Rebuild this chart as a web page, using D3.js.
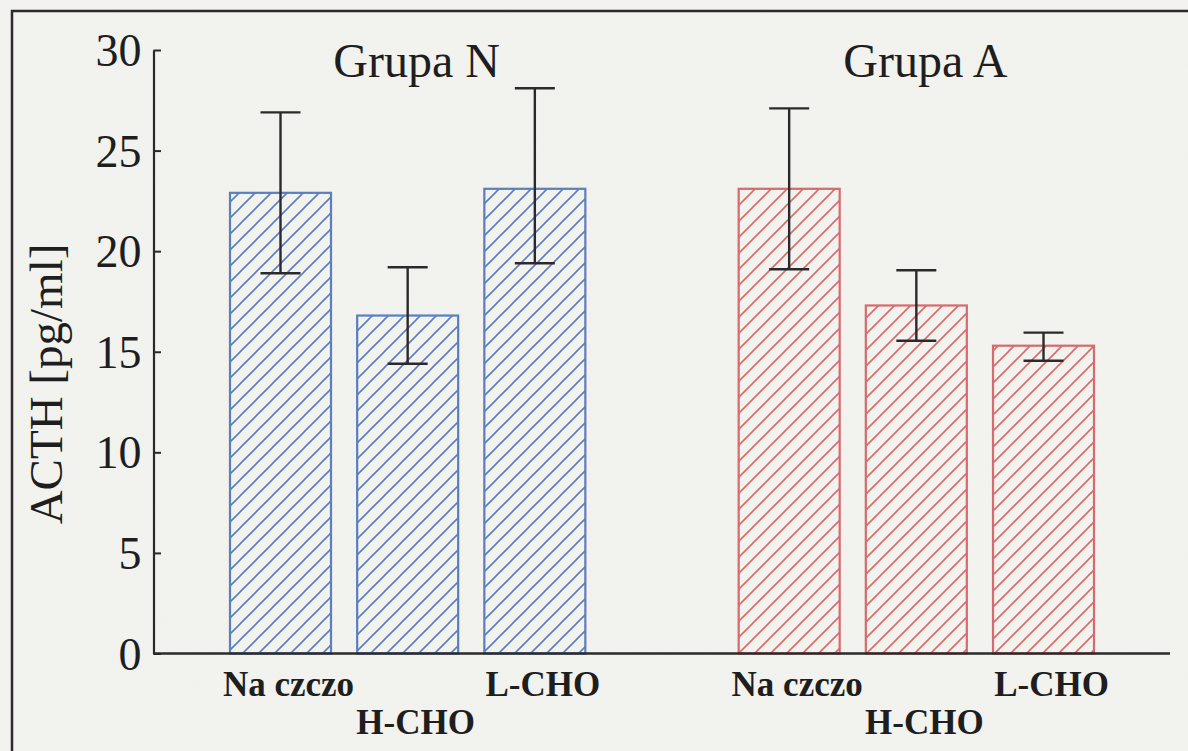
<!DOCTYPE html>
<html>
<head>
<meta charset="utf-8">
<script src="https://cdn.jsdelivr.net/npm/d3@7.9.0/dist/d3.min.js"></script>
<style>
  html, body { margin: 0; padding: 0; background: #f2f2ef; }
  svg { display: block; }
  text { font-family: "Liberation Serif", "Times New Roman", serif; fill: #1e1e1e; }
</style>
</head>
<body>
<svg id="chart" width="1188" height="751"></svg>
<script>
// data
const groups = ['Grupa N', 'Grupa A'];
const categories = ['Na czczo', 'H-CHO', 'L-CHO'];
const meanN = [22.9, 16.8, 23.1];
const lowN = [18.9, 14.4, 19.4];
const highN = [26.9, 19.2, 28.1];
const meanA = [23.1, 17.3, 15.3];
const lowA = [19.1, 15.55, 14.55];
const highA = [27.1, 19.05, 15.95];
const yTicks = [0, 5, 10, 15, 20, 25, 30];
const groupColors = ['#5b7fbe', '#d56b6c'];

const series = [
  { group: groups[0], mean: meanN, low: lowN, high: highN, slot0: 0 },
  { group: groups[1], mean: meanA, low: lowA, high: highA, slot0: 4 }
];

const svg = d3.select('#chart');
const defs = svg.append('defs');

// slight paper texture
const noise = defs.append('filter').attr('id', 'paper')
  .attr('x', 0).attr('y', 0).attr('width', '100%').attr('height', '100%');
noise.append('feTurbulence').attr('type', 'fractalNoise')
  .attr('baseFrequency', 0.9).attr('numOctaves', 2).attr('seed', 3);
noise.append('feColorMatrix').attr('type', 'matrix')
  .attr('values', '0 0 0 0 0.5  0 0 0 0 0.5  0 0 0 0 0.48  0 0 0 0.05 0');
svg.append('rect').attr('width', 1188).attr('height', 751).attr('fill', '#f3f3f0');
svg.append('rect').attr('width', 1188).attr('height', 751).attr('filter', 'url(#paper)');

// hatch patterns, one per group
groupColors.forEach((c, i) => {
  const p = defs.append('pattern')
    .attr('id', 'hatch' + i)
    .attr('patternUnits', 'userSpaceOnUse')
    .attr('width', 16).attr('height', 16);
  p.append('path')
    .attr('d', 'M-4,4 L4,-4 M0,16 L16,0 M12,20 L20,12')
    .attr('stroke', c).attr('stroke-width', 1.6);
});

// frame (only top and left edges show)
svg.append('path')
  .attr('d', 'M12,751 L12,11 L1188,11')
  .attr('fill', 'none').attr('stroke', '#2e2a2c').attr('stroke-width', 2.5);

const y = d3.scaleLinear().domain([0, 30]).range([653.5, 50]);
const x = d3.scaleLinear().domain([0, 6]).range([280.5, 1043.5]);
const barW = 101;

// y axis: minor ticks every 1, major every 5, all pointing inward
const gy = svg.append('g').attr('transform', 'translate(153.5,0)');
gy.call(d3.axisLeft(y).tickValues(d3.range(0, 31, 1)).tickSize(-3).tickSizeOuter(0).tickFormat(''));
gy.call(d3.axisLeft(y).tickValues(yTicks).tickSize(-7.5).tickSizeOuter(0).tickPadding(12));
gy.selectAll('path.domain').attr('stroke', '#2a2a2a').attr('stroke-width', 2.2);
gy.selectAll('.tick line').attr('stroke', '#2a2a2a').attr('stroke-width', 2);
gy.selectAll('.tick text')
  .attr('font-family', '"Liberation Serif", serif')
  .attr('font-size', 46).attr('fill', '#1e1e1e').attr('dy', '0.34em');

svg.append('text')
  .attr('transform', 'translate(62,384) rotate(-90)')
  .attr('text-anchor', 'middle')
  .attr('font-size', 47)
  .text('ACTH [pg/ml]');

// bars
series.forEach((s, gi) => {
  const g = svg.append('g');
  const rows = categories.map((c, i) => ({
    cat: c, i, mean: s.mean[i], low: s.low[i], high: s.high[i], cx: x(s.slot0 + i)
  }));

  g.selectAll('rect.bar').data(rows).join('rect')
    .attr('class', 'bar')
    .attr('x', d => d.cx - barW / 2)
    .attr('y', d => y(d.mean))
    .attr('width', barW)
    .attr('height', d => y(0) - y(d.mean))
    .attr('fill', `url(#hatch${gi})`)
    .attr('stroke', groupColors[gi])
    .attr('stroke-width', 2.2);

  // error bars
  const err = g.selectAll('g.err').data(rows).join('g').attr('class', 'err')
    .attr('stroke', '#2a2a2a').attr('stroke-width', 2.4);
  err.append('line')
    .attr('x1', d => d.cx).attr('x2', d => d.cx)
    .attr('y1', d => y(d.low)).attr('y2', d => y(d.high));
  err.append('line')
    .attr('x1', d => d.cx - 20).attr('x2', d => d.cx + 20)
    .attr('y1', d => y(d.high)).attr('y2', d => y(d.high));
  err.append('line')
    .attr('x1', d => d.cx - 20).attr('x2', d => d.cx + 20)
    .attr('y1', d => y(d.low)).attr('y2', d => y(d.low));

  // category labels, staggered
  g.selectAll('text.cat').data(rows).join('text')
    .attr('class', 'cat')
    .attr('x', d => d.cx + 8)
    .attr('y', d => d.i === 1 ? 734 : 696)
    .attr('text-anchor', 'middle')
    .attr('font-weight', 'bold')
    .attr('font-size', 35)
    .text(d => d.cat);

  // group title
  svg.append('text')
    .attr('x', x(s.slot0 + 1) + 9)
    .attr('y', 77)
    .attr('text-anchor', 'middle')
    .attr('font-size', 48)
    .text(s.group);
});

// x axis baseline
svg.append('line')
  .attr('x1', 153.5).attr('x2', 1170)
  .attr('y1', y(0)).attr('y2', y(0))
  .attr('stroke', '#2a2a2a').attr('stroke-width', 2.4);
</script>
</body>
</html>
